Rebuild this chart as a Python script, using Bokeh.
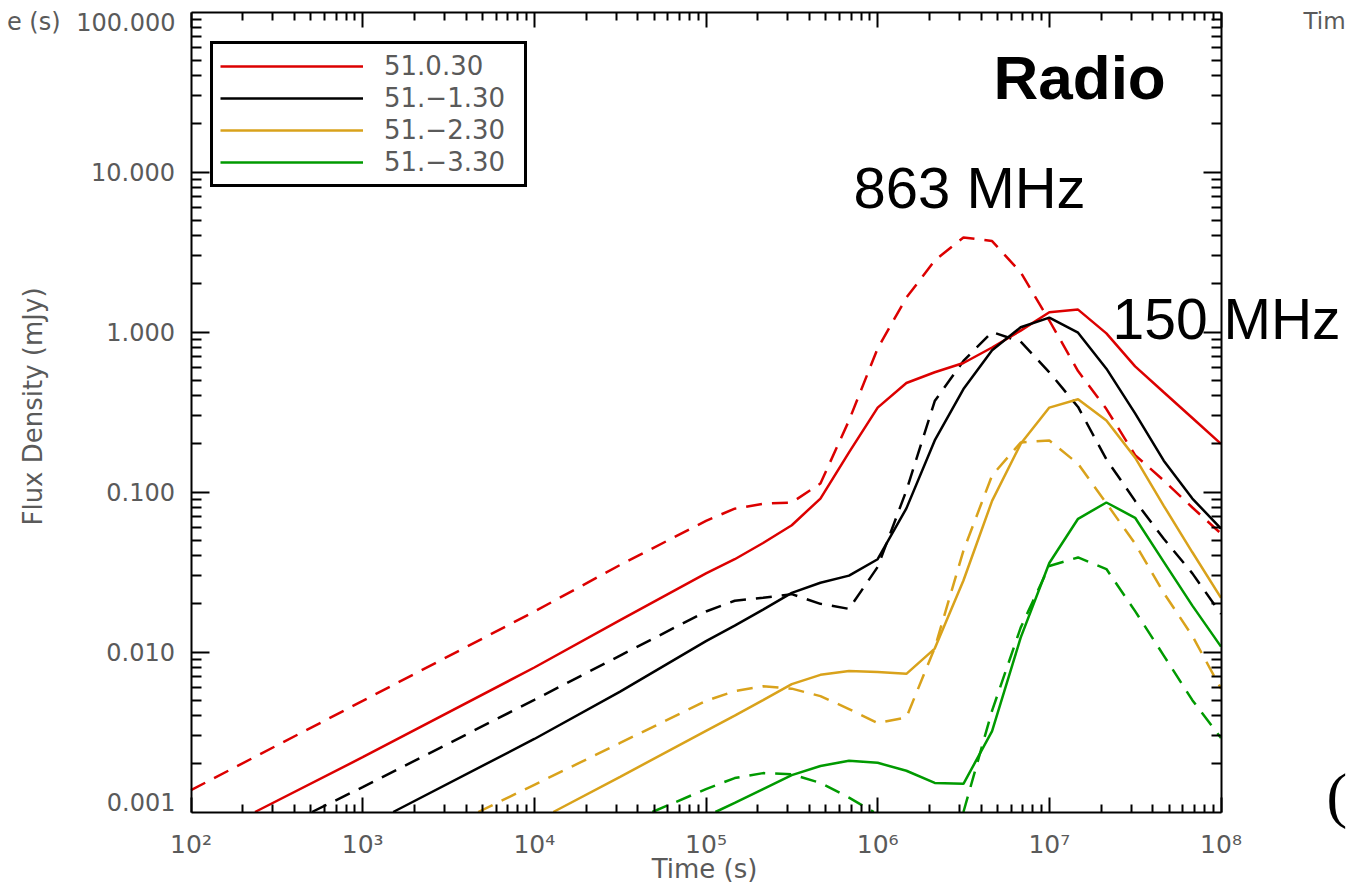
import math
from bokeh.plotting import figure
from bokeh.models import (LogAxis, FixedTicker, CustomJSTickFormatter, Legend,
                          LegendItem, Label, Range1d)
from bokeh.embed import file_html
from bokeh.resources import INLINE

NaN = float("nan")

# ---------------- data ----------------
model_names = ["51.0.30", "51.\u22121.30", "51.\u22122.30", "51.\u22123.30"]
model_colors = ["#DC0000", "#000000", "#D9A21B", "#009A00"]

# solid lines = 150 MHz, dashed lines = 863 MHz ; time in s, flux density in mJy
red_150_t = [236, 1e3, 1e4, 3.16e4, 1e5, 1.47e5, 2.15e5, 3.16e5, 4.64e5, 6.81e5, 1e6, 1.47e6,
             2.15e6, 3.16e6, 4.64e6, 6.81e6, 1e7, 1.47e7, 2.15e7, 3.16e7, 4.64e7, 6.81e7, 1e8]
red_150_f = [0.001, 0.0022, 0.0080, 0.0158, 0.031, 0.038, 0.048, 0.062, 0.091, 0.177, 0.337, 0.48,
             0.56, 0.64, 0.80, 1.02, 1.33, 1.38, 0.98, 0.61, 0.42, 0.29, 0.20]

red_863_t = [1e2, 1e3, 1e4, 3.16e4, 1e5, 1.47e5, 2.15e5, 3.16e5, 4.64e5, 6.81e5, 1e6, 1.47e6,
             2.15e6, 3.16e6, 4.64e6, 6.81e6, 1e7, 1.47e7, 2.15e7, 3.16e7, 4.64e7, 6.81e7, 1e8]
red_863_f = [0.00137, 0.00495, 0.0179, 0.035, 0.066, 0.0787, 0.0845, 0.086, 0.113, 0.28, 0.79, 1.64,
             2.8, 3.9, 3.7, 2.36, 1.18, 0.57, 0.33, 0.17, 0.118, 0.080, 0.055]

black_150_t = [1506, 1e4, 3.16e4, 1e5, 1.47e5, 2.15e5, 3.16e5, 4.64e5, 6.81e5, 1e6, 1.47e6,
               2.15e6, 3.16e6, 4.64e6, 6.81e6, 1e7, 1.47e7, 2.15e7, 3.16e7, 4.64e7, 6.81e7, 1e8]
black_150_f = [0.001, 0.00286, 0.00565, 0.0117, 0.0146, 0.0184, 0.0234, 0.0271, 0.030, 0.038, 0.079,
               0.21, 0.44, 0.77, 1.07, 1.23, 0.99, 0.59, 0.31, 0.157, 0.091, 0.059]

black_863_t = [507, 1e3, 1e4, 3.16e4, 1e5, 1.47e5, 2.15e5, 3.16e5, 4.64e5, 6.81e5, 1e6, 1.47e6,
               2.15e6, 3.16e6, 4.64e6, 6.81e6, 1e7, 1.47e7, 2.15e7, 3.16e7, 4.64e7, 6.81e7, 1e8]
black_863_f = [0.001, 0.00143, 0.00502, 0.0095, 0.0179, 0.0209, 0.0218, 0.023, 0.020, 0.0186, 0.034,
               0.102, 0.37, 0.66, 1.0, 0.87, 0.56, 0.34, 0.16, 0.088, 0.051, 0.031, 0.0173]

gold_150_t = [12900, 3.16e4, 1e5, 1.47e5, 2.15e5, 3.16e5, 4.64e5, 6.81e5, 1e6, 1.47e6,
              2.15e6, 3.16e6, 4.64e6, 6.81e6, 1e7, 1.47e7, 2.15e7, 3.16e7, 4.64e7, 6.81e7, 1e8]
gold_150_f = [0.001, 0.00166, 0.00321, 0.0040, 0.0050, 0.0063, 0.0072, 0.0076, 0.0075, 0.0073,
              0.0105, 0.028, 0.088, 0.20, 0.337, 0.38, 0.28, 0.164, 0.082, 0.042, 0.0218]

gold_863_t = [4710, 1e4, 3.16e4, 1e5, 1.47e5, 2.15e5, 3.16e5, 4.64e5, 6.81e5, 1e6, 1.47e6,
              2.15e6, 3.16e6, 4.64e6, 6.81e6, 1e7, 1.47e7, 2.15e7, 3.16e7, 4.64e7, 6.81e7, 1e8]
gold_863_f = [0.001, 0.00148, 0.0027, 0.00495, 0.0057, 0.0061, 0.0059, 0.0053, 0.0044, 0.0036,
              0.0039, 0.0106, 0.043, 0.127, 0.204, 0.21, 0.15, 0.085, 0.0475, 0.0234, 0.0126, 0.0059]

green_150_t = [1.135e5, 1.47e5, 2.15e5, 3.16e5, 4.64e5, 6.81e5, 1e6, 1.47e6, 2.15e6, 3.16e6,
               4.64e6, 6.81e6, 1e7, 1.47e7, 2.15e7, 3.16e7, 4.64e7, 6.81e7, 1e8]
green_150_f = [0.001, 0.00114, 0.00139, 0.0017, 0.00194, 0.00209, 0.00203, 0.00181, 0.00152, 0.0015,
               0.0032, 0.0123, 0.036, 0.068, 0.086, 0.069, 0.0366, 0.0195, 0.0108]

# the 863 MHz curve of 51.-3.30 dips below 0.001 mJy between ~9.5e5 s and ~3.2e6 s
green_863_t = [4.87e4, 1e5, 1.47e5, 2.15e5, 3.16e5, 4.64e5, 6.81e5, 9.5e5, NaN,
               3.16e6, 4.64e6, 6.81e6, 1e7, 1.47e7, 2.15e7, 3.16e7, 4.64e7, 6.81e7, 1e8]
green_863_f = [0.001, 0.00139, 0.00163, 0.00175, 0.00172, 0.00152, 0.00123, 0.001, NaN,
               0.001, 0.0043, 0.0142, 0.0345, 0.039, 0.033, 0.018, 0.0095, 0.005, 0.0029]

series_150 = [(red_150_t, red_150_f), (black_150_t, black_150_f),
              (gold_150_t, gold_150_f), (green_150_t, green_150_f)]
series_863 = [(red_863_t, red_863_f), (black_863_t, black_863_f),
              (gold_863_t, gold_863_f), (green_863_t, green_863_f)]

x_lim = (1e2, 1e8)
y_lim = (1e-3, 1e2)
x_major = [10.0 ** k for k in range(2, 9)]
x_minor = [m * 10.0 ** k for k in range(2, 8) for m in range(2, 10)]
y_major_labelled = [0.01, 0.1, 1.0, 10.0]
y_minor = [m * 10.0 ** k for k in range(-3, 2) for m in range(2, 10)]

# ---------------- layout: the axes box sits at these page pixels ----------------
W, H = 1350, 889
FL, FR, FT, FB = 190.5, 1220.5, 11.5, 811.5
DEC_X = (FR - FL) / 6.0
DEC_Y = (FB - FT) / 5.0

def X(px):
    return 10 ** (2 + (px - FL) / DEC_X)

def Y(py):
    return 10 ** (2 - (py - FT) / DEC_Y)

def BASE(py, size):
    # page-pixel baseline -> anchor for an alphabetic-baseline label of this font size
    return Y(py - 0.38 * size)

p = figure(width=W, height=H, x_axis_type="log", y_axis_type="log",
           x_axis_location=None, y_axis_location=None,
           x_range=Range1d(X(0), X(W)), y_range=Range1d(Y(H), Y(0)),
           output_backend="svg", toolbar_location=None,
           min_border=0, min_border_left=0, min_border_right=0,
           min_border_top=0, min_border_bottom=0)
p.grid.visible = False
p.outline_line_color = None
p.background_fill_color = "white"
p.border_fill_color = "white"

GRAY = "#5a5a5a"
TFONT = "DejaVu Sans"

def style(ax, major, minor):
    ax.axis_line_width = 2
    ax.axis_line_color = "black"
    ax.major_tick_in = major
    ax.major_tick_out = 0
    ax.minor_tick_in = minor
    ax.minor_tick_out = 0
    ax.major_tick_line_width = 2
    ax.minor_tick_line_width = 2
    ax.major_tick_line_color = "black"
    ax.minor_tick_line_color = "black"

def hide_labels(ax):
    ax.major_label_text_font_size = "1px"
    ax.major_label_text_alpha = 0.0
    ax.major_label_standoff = 0

bottom = LogAxis(fixed_location=y_lim[0], bounds=x_lim,
                 ticker=FixedTicker(ticks=x_major, minor_ticks=x_minor))
bottom.formatter = CustomJSTickFormatter(code="""
const sup = {2:"\u00b2",3:"\u00b3",4:"\u2074",5:"\u2075",6:"\u2076",7:"\u2077",8:"\u2078"};
const e = Math.round(Math.log10(tick));
return "10" + sup[e];
""")
bottom.major_label_text_font = TFONT
bottom.major_label_text_font_size = "25px"
bottom.major_label_text_color = GRAY
bottom.major_label_standoff = 18
style(bottom, 15, 8)
p.add_layout(bottom, "below")

left = LogAxis(fixed_location=x_lim[0], bounds=y_lim,
               ticker=FixedTicker(ticks=y_major_labelled, minor_ticks=y_minor))
left.formatter = CustomJSTickFormatter(code="return tick.toFixed(3);")
left.major_label_text_font = TFONT
left.major_label_text_font_size = "24px"
left.major_label_text_color = GRAY
left.major_label_standoff = 16
style(left, 18, 10)
p.add_layout(left, "left")

top = LogAxis(fixed_location=y_lim[1], bounds=x_lim,
              ticker=FixedTicker(ticks=x_major, minor_ticks=x_minor))
style(top, 15, 8)
hide_labels(top)
p.add_layout(top, "above")

right = LogAxis(fixed_location=x_lim[1], bounds=y_lim,
                ticker=FixedTicker(ticks=y_major_labelled, minor_ticks=y_minor))
style(right, 18, 10)
hide_labels(right)
p.add_layout(right, "right")

# ---------------- lines ----------------
solid = []
for (t, f), col in zip(series_863, model_colors):
    p.line(t, f, line_color=col, line_width=2.5, line_dash="16 10")
for (t, f), col in zip(series_150, model_colors):
    solid.append(p.line(t, f, line_color=col, line_width=2.5))

legend = Legend(items=[LegendItem(label=n, renderers=[r]) for n, r in zip(model_names, solid)],
                location=(210, H - 187), orientation="vertical",
                border_line_color="black", border_line_width=3, border_line_alpha=1.0,
                background_fill_color="white", background_fill_alpha=1.0,
                label_text_font=TFONT, label_text_font_size="26px", label_text_color=GRAY,
                glyph_width=143, glyph_height=20, label_standoff=21, label_width=133,
                spacing=2, padding=7, margin=0)
p.add_layout(legend)

# ---------------- texts ----------------
def add_label(x, y, text, size, color="black", font="Liberation Sans", style_="normal",
              align="left", baseline="alphabetic", angle=0.0):
    p.add_layout(Label(x=x, y=y, text=text, text_font=font, text_font_size=size,
                       text_font_style=style_, text_color=color, text_align=align,
                       text_baseline=baseline, angle=angle))

add_label(X(993), BASE(101, 62), "Radio", "62px", style_="bold")
add_label(X(853), BASE(209, 58), "863 MHz", "58px")
add_label(X(1112), BASE(340, 57), "150 MHz", "57px")

add_label(X(175), BASE(31, 24), "100.000", "24px", color=GRAY, font=TFONT, align="right")
add_label(X(175), BASE(811, 24), "0.001", "24px", color=GRAY, font=TFONT, align="right")
add_label(X(60), BASE(31, 24), "e (s)", "24px", color=GRAY, font=TFONT, align="right")
add_label(X(1303), BASE(29, 23), "Tim", "23px", color=GRAY, font=TFONT)
add_label(X(1326), BASE(818, 62), "(", "62px", font="Liberation Serif")

add_label(X(704), BASE(878, 26), "Time (s)", "26px", color=GRAY, font=TFONT, align="center")
add_label(X(32), Y(406), "Flux Density (mJy)", "26px", color=GRAY, font=TFONT,
          align="center", baseline="middle", angle=math.pi / 2)

open("out.html", "w").write(file_html(p, INLINE))
